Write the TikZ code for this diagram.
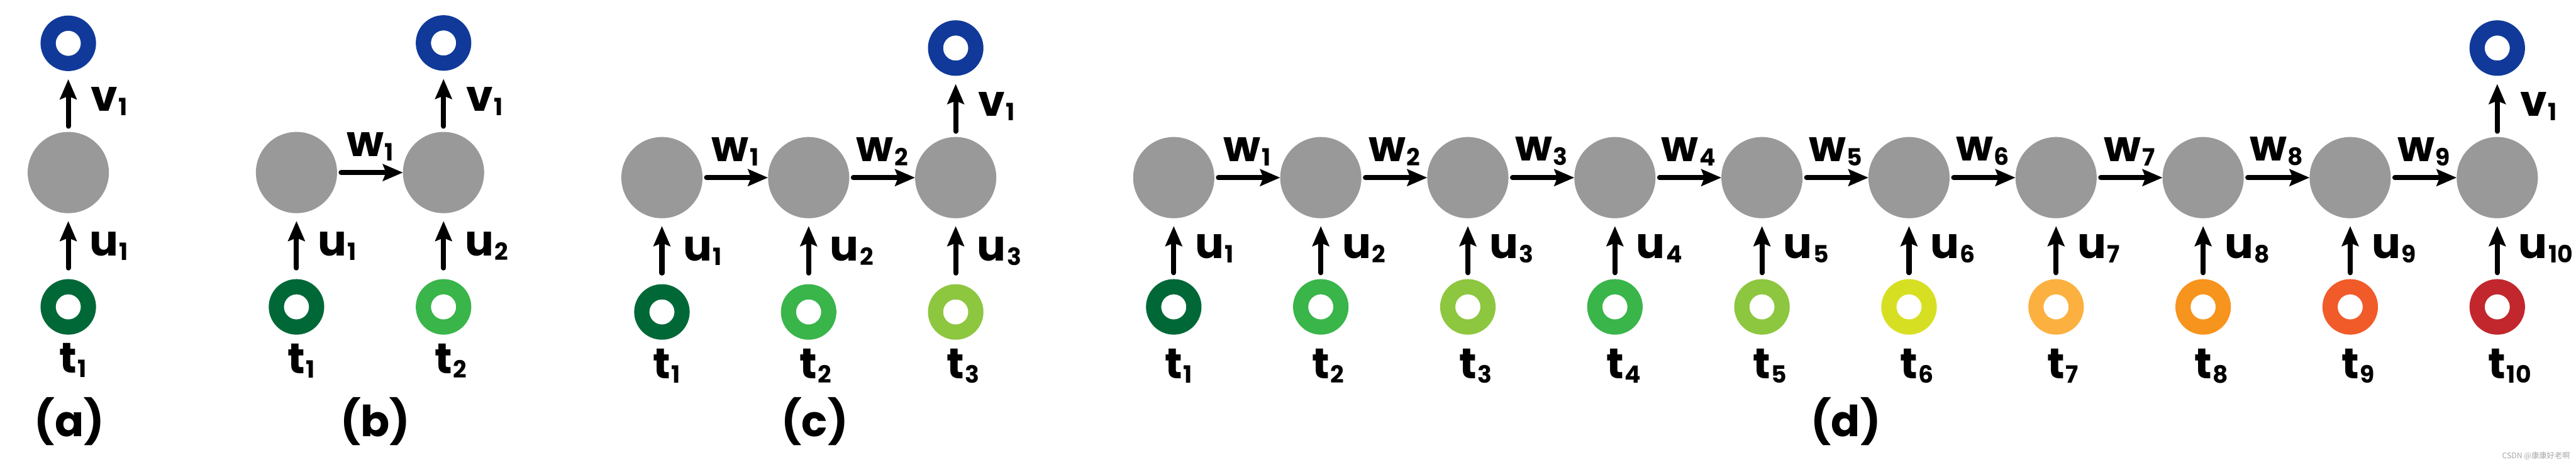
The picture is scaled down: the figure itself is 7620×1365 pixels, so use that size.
\documentclass[tikz,border=0pt]{standalone}
\usepackage{fontspec}
\setmainfont{Poppins}
\newfontfamily\cjkfont{Noto Sans CJK SC}
\usetikzlibrary{arrows.meta,positioning,calc}

\definecolor{outblue}{HTML}{10399A}
\definecolor{hidgray}{HTML}{999999}
\definecolor{tgA}{HTML}{006837}
\definecolor{tgB}{HTML}{39B54A}
\definecolor{tgC}{HTML}{8DC63F}
\definecolor{tyel}{HTML}{D7DF23}
\definecolor{tlor}{HTML}{FBB040}
\definecolor{tor}{HTML}{F7941D}
\definecolor{tred}{HTML}{F15A29}
\definecolor{tdred}{HTML}{C1272D}

\newcommand{\subsz}{\fontsize{20}{20}\selectfont}
\newcommand{\lbl}[2]{#1\kern0.02em\raisebox{-0.13cm}{\subsz #2}}
\newcommand{\tlbl}[1]{t\rlap{\kern0.02em\raisebox{-0.13cm}{\subsz #1}}}

\begin{document}
\begin{tikzpicture}[x=0.01cm,y=-0.01cm,
  hid/.style={circle,fill=hidgray,minimum size=2.4cm,inner sep=0pt,outer sep=0pt},
  ring/.style={circle,draw=#1,line width=0.45cm,fill=white,minimum size=1.19cm,inner sep=0pt},
  arr/.style={line width=0.15cm,line cap=round,-{Stealth[length=0.59cm,width=0.49cm,inset=0.09cm]}},
  uarr/.style={arr,shorten <=0.33cm,shorten >=0.23cm},
  varr/.style={arr,shorten <=0.17cm,shorten >=0.24cm},
  warr/.style={arr,shorten <=0.12cm},
  lab/.style={font=\bfseries\fontsize{36}{40}\selectfont,inner sep=0pt}]
  \useasboundingbox (0,0) rectangle (7620,1365);

  % (a) single step
  \node[ring=outblue] (a-o) at (202,128) {};
  \node[hid] (a-h1) at (202,510) {};
  \node[ring=tgA] (a-t1) at (202,907) {};
  \node[lab,below=0.25cm of a-t1] {\tlbl{1}};
  \draw[uarr] (a-t1) -- (a-h1) node[midway,right=0.56cm,lab] {\lbl{u}{1}};
  \draw[varr] (a-h1) -- (a-o) node[midway,right=0.6cm,lab] {\lbl{v}{1}};
  \node[lab] (a-cap) at (205,1246) {(a)};

  % (b) two steps
  \node[hid] (b-h1) at (877,510) {};
  \node[hid] (b-h2) at (1312,510) {};
  \node[ring=outblue] (b-o) at (1312,127) {};
  \node[ring=tgA] (b-t1) at (877,907) {};
  \node[ring=tgB] (b-t2) at (1312,907) {};
  \node[lab,below=0.27cm of b-t1] {\tlbl{1}};
  \node[lab,below=0.27cm of b-t2] {\tlbl{2}};
  \draw[uarr] (b-t1) -- (b-h1) node[midway,right=0.56cm,lab] {\lbl{u}{1}};
  \draw[uarr] (b-t2) -- (b-h2) node[midway,right=0.56cm,lab] {\lbl{u}{2}};
  \draw[warr] (b-h1) -- (b-h2) node[midway,above=0.28cm,lab] {\lbl{w}{1}};
  \draw[varr] (b-h2) -- (b-o) node[midway,right=0.6cm,lab] {\lbl{v}{1}};
  \node[lab] (b-cap) at (1110,1246) {(b)};

  % (c) three steps
  \foreach \i/\x/\col in {1/1958/tgA,2/2392/tgB,3/2827/tgC} {
    \node[hid] (c-h\i) at (\x,525) {};
    \node[ring=\col] (c-t\i) at (\x,922) {};
    \node[lab,below=0.27cm of c-t\i] {\tlbl{\i}};
    \draw[uarr] (c-t\i) -- (c-h\i) node[midway,right=0.56cm,lab] {\lbl{u}{\i}};
  }
  \node[ring=outblue] (c-o) at (2827,142) {};
  \draw[warr] (c-h1) -- (c-h2) node[midway,above=0.28cm,lab] {\lbl{w}{1}};
  \draw[warr] (c-h2) -- (c-h3) node[midway,above=0.28cm,lab] {\lbl{w}{2}};
  \draw[varr] (c-h3) -- (c-o) node[midway,right=0.6cm,lab] {\lbl{v}{1}};
  \node[lab] (c-cap) at (2410,1246) {(c)};

  % (d) ten steps
  \foreach \i/\col in {1/tgA,2/tgB,3/tgC,4/tgB,5/tgC,6/tyel,7/tlor,8/tor,9/tred,10/tdred} {
    \node[hid] (d-h\i) at ({3472+435*(\i-1)},525) {};
    \node[ring=\col] (d-t\i) at ({3472+435*(\i-1)},907) {};
    \node[lab,below=0.42cm of d-t\i] {\tlbl{\i}};
    \draw[uarr,shorten <=0.19cm] (d-t\i) -- (d-h\i) node[midway,right=0.56cm,lab] {\lbl{u}{\i}};
  }
  \foreach \i [evaluate=\i as \j using int(\i+1)] in {1,...,9}
    \draw[warr] (d-h\i) -- (d-h\j) node[midway,above=0.28cm,lab] {\lbl{w}{\i}};
  \node[ring=outblue] (d-o) at (7387,142) {};
  \draw[varr] (d-h10) -- (d-o) node[midway,right=0.6cm,lab] {\lbl{v}{1}};
  \node[lab] (d-cap) at (5460,1246) {(d)};

  % watermark
  \node[font=\cjkfont\fontsize{6.5}{7}\selectfont,text=black!35,anchor=east,inner sep=0pt] (wm) at (7603,1348) {CSDN @康康好老啊};
\end{tikzpicture}
\end{document}
